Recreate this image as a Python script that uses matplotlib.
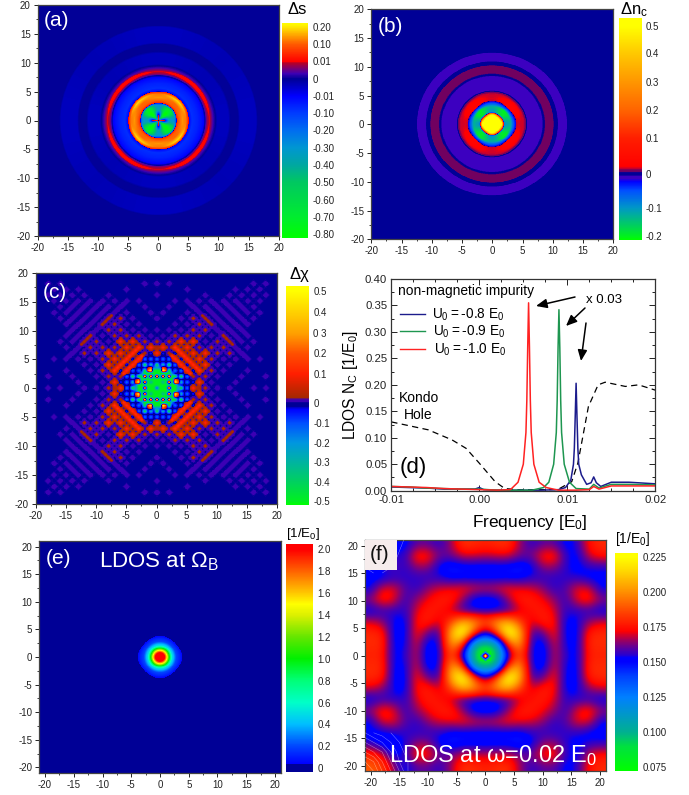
import numpy as np
import matplotlib
matplotlib.use('Agg')
import matplotlib.pyplot as plt
from matplotlib.colors import LinearSegmentedColormap, FuncNorm
from matplotlib.cm import ScalarMappable
from matplotlib.ticker import MultipleLocator

plt.rcParams['font.family'] = ['Liberation Sans', 'DejaVu Sans']
plt.rcParams['axes.unicode_minus'] = False
plt.rcParams['mathtext.fontset'] = 'custom'
plt.rcParams['mathtext.rm'] = 'Liberation Sans'
plt.rcParams['mathtext.default'] = 'regular'

W, H = 689, 795

# ---- panel (a): radial profiles along the axis and along the diagonal
a_r = [0, .3, 1, 1.3, 1.8, 2.6, 2.9, 3.05, 3.4, 4, 4.6, 4.9, 5.1, 5.6, 6.5, 7.2, 7.6, 7.9, 8.2, 8.5, 8.9, 9.2, 9.5, 9.8, 11.6, 12, 13.2, 13.5, 16.2, 16.5, 22]
a_axis_v = [0, .05, .012, -.12, -.35, -.3, -.15, .05, .1, .14, .12, .06, -.02, -.08, -.06, -.03, -.006, .004, .008, .0095, .005, .002, 0, -.004, -.004, 0, 0, -.004, -.004, 0, 0]
a_diag_v = [0, -.4, -.75, -.8, -.8, -.7, -.35, .03, .1, .11, .19, .12, -.02, -.08, -.06, -.03, -.006, .004, .01, .018, .005, .002, 0, -.003, -.003, 0, 0, -.003, -.003, 0, 0]
a_levels = [-.82, -.8, -.7, -.6, -.5, -.4, -.3, -.2, -.1, -.01, 0, .01, .1, .2, .22]
a_ypos = [714, 702, 650, 599, 547, 496, 443, 392, 340, 288, 237, 185, 133, 82, 70]
a_ticks = [-.8, -.7, -.6, -.5, -.4, -.3, -.2, -.1, -.01, 0, .01, .1, .2]
a_labels = ['-0.80', '-0.70', '-0.60', '-0.50', '-0.40', '-0.30', '-0.20', '-0.10', '-0.01', '0', '0.01', '0.10', '0.20']
a_stops = [(-.82, '#00ff00'), (-.7, '#00ec30'), (-.5, '#00c860'), (-.4, '#00a8a0'), (-.3, '#0096d2'), (-.2, '#006ef0'),
           (-.1, '#003cff'), (-.012, '#0000ff'), (0, '#000096'), (.003, '#3c00b4'), (.006, '#7a0070'), (.009, '#b40028'),
           (.0105, '#ff0000'), (.1, '#ff5a00'), (.15, '#ffa000'), (.2, '#ffe600'), (.22, '#ffff00')]

# ---- panel (b)
b_axis_r = [0, 1.6, 1.85, 1.95, 2.1, 3, 3.5, 3.9, 4.05, 4.4, 5.3, 5.6, 5.9, 8.2, 8.5, 8.9, 9.1, 10.1, 10.3, 10.8, 11.0, 12.3, 12.5, 22]
b_axis_v = [.55, .5, .2, -.03, -.1, -.13, -.06, -.025, .016, .018, .016, .009, -.01, -.01, 0, .009, .009, .009, 0, 0, -.01, -.01, 0, 0]
b_diag_r = [0, 1.4, 1.7, 1.85, 2.1, 3, 3.4, 3.7, 3.85, 4.6, 5.2, 5.5, 5.9, 8.2, 8.5, 8.9, 9.1, 10.1, 10.3, 10.8, 11.0, 12.3, 12.5, 22]
b_diag_v = [.55, .5, .2, -.03, -.19, -.2, -.06, -.025, .03, .03, .018, .009, -.01, -.01, 0, .009, .009, .009, 0, 0, -.01, -.01, 0, 0]
b_levels = [-.21, -.2, -.1, 0, .1, .2, .3, .4, .5, .54]
b_ypos = [719, 708, 623, 522, 415, 330, 245, 160, 78, 53]
b_ticks = [-.2, -.1, 0, .1, .2, .3, .4, .5]
b_labels = ['-0.2', '-0.1', '0', '0.1', '0.2', '0.3', '0.4', '0.5']
b_stops = [(-.21, '#00ff00'), (-.2, '#00f020'), (-.1, '#0096c8'), (-.05, '#0050ff'), (-.023, '#0000ff'), (-.013, '#3c00c0'),
           (-.008, '#3c00c0'), (-.002, '#000096'), (.003, '#000096'), (.007, '#6e0064'), (.011, '#78005a'),
           (.016, '#c8002d'), (.021, '#ff0000'), (.1, '#ff1e00'), (.2, '#ff6400'), (.3, '#ff9600'), (.4, '#ffc800'),
           (.5, '#ffff00'), (.54, '#ffff00')]

# ---- panel (c): lattice sites, one row per (i+j)/2, one letter per (i-j)/2
# upper-case letters join with their neighbour along the stripe
c_even = ['n', 'ty', 'yyg', 'agar', 'RRUrq', 'RRRqpp', 'rrrqp.p', 'qrqpp.p.', 'pqqpS.p.p', 'pqqqp.p..p', 'SUUSSS..p.',
          'SSSSp.p.', 'SSSSp', 'SSS', 'SSp', 'ppp', 'pp', 'pp', 'p']
c_odd = ['g', 'yg', 'gta', 'aabq', 'bb']
c_codes = {'.': 0, 'p': .01, 'S': .01, 'q': .028, 'U': .028, 'r': .12, 'R': .14, 'o': .3, 'y': .5, 'b': -.05, 'a': -.15, 't': -.3, 'g': -.5, 'n': -.03}
c_core_r = [0, 3.2, 3.7, 22]
c_core_v = [-.5, -.5, 0, 0]
c_levels = [-.53, -.5, -.4, -.3, -.2, -.1, 0, .1, .2, .3, .4, .5, .53]
c_ypos = [735, 724, 665, 607, 548, 490, 430, 342, 280, 220, 157, 92, 78]
c_ticks = [-.5, -.4, -.3, -.2, -.1, 0, .1, .2, .3, .4, .5]
c_labels = ['-0.5', '-0.4', '-0.3', '-0.2', '-0.1', '0', '0.1', '0.2', '0 3', '0.4', '0.5']
c_stops = [(-.53, '#00ff00'), (-.5, '#00f020'), (-.4, '#00d060'), (-.3, '#00b4a0'), (-.2, '#0096e0'), (-.1, '#0050ff'),
           (-.03, '#0000ff'), (-.015, '#000096'), (.002, '#000096'), (.005, '#3c00b4'), (.012, '#3c00b4'),
           (.02, '#a52800'), (.1, '#ff1e00'), (.2, '#ff5000'), (.3, '#ffa000'), (.4, '#ffd000'), (.5, '#ffff00'), (.53, '#ffff00')]

# ---- panel (d)
red_x = [-.01, -.008, -.006, -.004, -.002, 0, .002, .0035, .0036, .0044, .005, .0053, .0054, .0055, .0056, .0057, .0058, .0059, .0062, .0068, .0076, .009, .011, .0125, .013, .0136, .015, .017, .02]
red_y = [.008, .007, .006, .004, .003, .002, .001, .002, .003, .016, .05, .11, .17, .27, .355, .27, .17, .11, .05, .016, .006, .001, .001, .002, .008, .003, .009, .009, .009]
green_x = [-.01, -.008, -.006, -.004, -.002, 0, .002, .004, .006, .0073, .0079, .00845, .00875, .00885, .00895, .00905, .00915, .00925, .00935, .00965, .01025, .011, .0125, .013, .0136, .015, .017, .02]
green_y = [.008, .007, .005, .004, .003, .003, .001, .001, .001, .006, .016, .05, .11, .17, .27, .342, .27, .17, .11, .05, .016, .004, .003, .012, .005, .012, .012, .011]
blue_x = [-.01, -.008, -.006, -.004, -.002, -.0005, 0, .0005, .002, .004, .007, .009, .0098, .0104, .0107, .0108, .0109, .011, .0111, .0112, .0113, .0116, .0122, .0127, .013, .0133, .0138, .015, .017, .02]
blue_y = [.007, .006, .005, .003, .003, .003, .006, .002, .001, .001, .001, .002, .006, .02, .05, .08, .14, .203, .14, .08, .05, .03, .012, .015, .026, .015, .008, .016, .016, .013]
kondo_x = [-.01, -.0058, -.0031, -.0015, 0, .0018, .0029, .0044, .0089, .0105, .0112, .0124, .0135, .0143, .0166, .0181, .02]
kondo_y = [.13, .115, .096, .08, .052, .017, .004, .002, .002, .017, .052, .159, .2, .205, .197, .2, .19]

# ---- panel (e)
e_axis_r = [0, .8, 1.2, 1.6, 2.1, 2.8, 3.8, 3.9, 22]
e_axis_v = [2.2, 2.0, 1.5, 1.0, .5, .2, .06, 0, 0]
e_diag_r = [0, .8, 1.2, 1.6, 2.1, 2.8, 3.6, 3.7, 22]
e_diag_v = [2.2, 2.0, 1.5, 1.0, .5, .2, .06, 0, 0]
e_levels = [-.04, 0, .2, .4, .6, .8, 1.0, 1.2, 1.4, 1.6, 1.8, 2.0, 2.05]
e_ypos = [726, 714, 649, 583, 518, 452, 386, 321, 255, 189, 124, 58, 42]
e_ticks = [0, .2, .4, .6, .8, 1.0, 1.2, 1.4, 1.6, 1.8, 2.0]
e_labels = ['0', '0.2', '0.4', '0.6', '0.8', '1.0', '1.2', '1.4', '1.6', '1.8', '2.0']
e_stops = [(-.04, '#000096'), (.035, '#000096'), (.04, '#0000ff'), (.2, '#0046ff'), (.4, '#00beff'), (.6, '#00ffc8'), (.8, '#00ff78'),
           (1.0, '#00f000'), (1.2, '#64e600'), (1.4, '#dcf000'), (1.5, '#ffff00'), (1.6, '#ffc800'), (1.8, '#ff6400'), (2.0, '#ff0000'), (2.05, '#ff0000')]

# ---- panel (f): quadrant table, step 2 in x and y; rows j=0..20, columns i=0..20
f_quad = [
    [.078, .088, .15, .19, .153, .145, .17, .155, .15, .178, .178],
    [.088, .10, .19, .205, .153, .147, .172, .152, .15, .18, .18],
    [.15, .19, .235, .21, .155, .16, .176, .15, .15, .178, .18],
    [.19, .205, .21, .185, .168, .178, .175, .15, .152, .165, .17],
    [.153, .153, .155, .168, .175, .178, .17, .155, .155, .155, .15],
    [.145, .147, .165, .178, .178, .172, .165, .155, .172, .178, .165],
    [.17, .172, .175, .172, .17, .165, .155, .16, .172, .172, .152],
    [.15, .15, .15, .15, .155, .155, .155, .155, .155, .15, .15],
    [.148, .148, .148, .145, .15, .165, .165, .155, .15, .155, .155],
    [.168, .17, .17, .162, .162, .176, .178, .155, .15, .17, .175],
    [.178, .18, .182, .165, .155, .16, .16, .15, .155, .175, .18],
]
f_upper_left = [[.148, .148, .15], [.148, .15, .155], [.15, .155, .16]]
f_lower_left = [[.19, .185, .165], [.18, .17, .15], [.155, .148, .145]]
f_core = [[.08, .08, .11, .08, .08], [.08, .13, .17, .13, .08], [.11, .17, .24, .17, .11], [.08, .13, .17, .13, .08], [.08, .08, .11, .08, .08]]
f_contour_ll = [[.21, .20, .18, .16, .14, .12], [.20, .19, .17, .15, .13, .12], [.18, .17, .16, .14, .125, .115], [.16, .15, .14, .13, .12, .11], [.14, .13, .125, .12, .11, .10]]
f_contour_ul = [[.13, .12, .12, .13, .14, .15], [.13, .125, .125, .135, .145, .155], [.14, .135, .135, .14, .15, .16], [.15, .145, .145, .15, .16, .16]]
f_levels = [.073, .075, .1, .125, .15, .175, .2, .225, .228]
f_ypos = [722, 712, 607, 502, 396, 291, 185, 80, 70]
f_ticks = [.075, .1, .125, .15, .175, .2, .225]
f_labels = ['0.075', '0.100', '0.125', '0.150', '0.175', '0.200', '0.225']
f_stops = [(.073, '#00ff00'), (.09, '#00e040'), (.1, '#00b090'), (.125, '#0080ff'), (.14, '#0040ff'), (.15, '#0000ff'), (.153, '#0000ff'),
           (.155, '#2800d0'), (.16, '#5a00a0'), (.165, '#960064'), (.17, '#dc0020'), (.172, '#ff0000'), (.185, '#ff4000'),
           (.2, '#ff9000'), (.215, '#ffd800'), (.225, '#ffff00'), (.228, '#ffff00')]

fig = plt.figure(figsize=(W / 100, H / 100), dpi=100)


def px_axes(x0, y0, x1, y1):
    return fig.add_axes([x0 / W, 1 - y1 / H, (x1 - x0) / W, (y1 - y0) / H])


def txt(x, y, s, **kw):
    kw.setdefault('va', 'center')
    kw.setdefault('ha', 'left')
    fig.text(x / W, 1 - y / H, s, **kw)


def make_scale(levels, ypos, stops, name):
    lv = np.array(levels, float)
    yp = np.array(ypos, float)
    fr = (yp[0] - yp) / (yp[0] - yp[-1])
    norm = FuncNorm((lambda v: np.interp(v, lv, fr), lambda f: np.interp(f, fr, lv)), vmin=lv[0], vmax=lv[-1])
    pts = [(float(np.interp(v, lv, fr)), c) for v, c in stops]
    pts[0] = (0.0, pts[0][1])
    pts[-1] = (1.0, pts[-1][1])
    cmap = LinearSegmentedColormap.from_list(name, pts, N=512)
    return norm, cmap


def colorbar(box, norm, cmap, ticks, labels):
    cax = px_axes(*box)
    cb = fig.colorbar(ScalarMappable(norm=norm, cmap=cmap), cax=cax)
    cb.set_ticks(ticks)
    cb.set_ticklabels(labels)
    cb.minorticks_off()
    cb.outline.set_visible(False)
    cax.tick_params(length=0, labelsize=7, pad=3, colors='#222222')
    return cb


def style_map(ax, lim):
    ax.set_xlim(-lim, lim)
    ax.set_ylim(-lim, lim)
    ax.set_aspect('auto')
    ax.xaxis.set_major_locator(MultipleLocator(5))
    ax.yaxis.set_major_locator(MultipleLocator(5))
    ax.xaxis.set_minor_locator(MultipleLocator(2.5))
    ax.yaxis.set_minor_locator(MultipleLocator(2.5))
    ax.tick_params(which='major', length=3, width=.7, labelsize=7, pad=2, colors='#222222')
    ax.tick_params(which='minor', length=1.5, width=.6, colors='#222222')
    for s in ax.spines.values():
        s.set_linewidth(.9)
        s.set_color('#444444')


def blended(ax_r, ax_v, di_r, di_v, lim):
    g = np.linspace(-lim, lim, 721)
    X, Y = np.meshgrid(g, g)
    r = np.hypot(X, Y)
    w = np.sin(2 * np.arctan2(Y, X)) ** 2
    return (1 - w) * np.interp(r, ax_r, ax_v) + w * np.interp(r, di_r, di_v)


# (a)
ax = px_axes(37.7, 5, 278.7, 236)
norm, cmap = make_scale(a_levels, a_ypos, a_stops, 'a')
ax.imshow(blended(a_r, a_axis_v, a_r, a_diag_v, 20), extent=(-20, 20, -20, 20), origin='lower', norm=norm, cmap=cmap, interpolation='nearest')
style_map(ax, 20)
colorbar((282, 23, 308, 238), norm, cmap, a_ticks, a_labels)
txt(44, 21, '(a)', color='white', fontsize=15)
txt(288, 10, 'Δs', fontsize=12)

# (b)
ax = px_axes(371.3, 9.3, 613.3, 239.3)
norm, cmap = make_scale(b_levels, b_ypos, b_stops, 'b')
ax.imshow(blended(b_axis_r, b_axis_v, b_diag_r, b_diag_v, 20), extent=(-20, 20, -20, 20), origin='lower', norm=norm, cmap=cmap, interpolation='nearest')
style_map(ax, 20)
colorbar((619, 17.7, 641.7, 239.7), norm, cmap, b_ticks, b_labels)
txt(378, 26, '(b)', color='white', fontsize=15)
txt(620, 10, r'Δ$n_c$', fontsize=12)

# (c): half-unit lattice so that sites stay distinct dots and stripes stay separate
ax = px_axes(35.7, 272.7, 277.3, 504)
norm, cmap = make_scale(c_levels, c_ypos, c_stops, 'c')
n = 41
gc = np.arange(-n + 1, n) / 2
rc = np.hypot(*np.meshgrid(gc, gc))
lat = np.interp(rc, c_core_r, c_core_v)


def put(i2, j2, v):
    for a, b in ((i2, j2), (j2, i2)):
        for sx in (-1, 1):
            for sy in (-1, 1):
                if abs(a) < n and abs(b) < n:
                    lat[n - 1 + sy * b, n - 1 + sx * a] = v


def halo(i2, j2, v):
    for di, dj in ((1, 0), (-1, 0), (0, 1), (0, -1)):
        a, b = i2 + di, j2 + dj
        if a >= 0 and b >= 0 and np.hypot(a, b) / 2 > 3.3:
            put(a, b, v * .4)


# halos first, then the sites on top of them
for s, row in enumerate(c_even):
    for k, ch in enumerate(row):
        if ch != '.' and c_codes[ch] > 0:
            halo(2 * (s + k), 2 * (s - k), c_codes[ch])
for s, row in enumerate(c_even):
    for k, ch in enumerate(row):
        if ch != '.':
            put(2 * (s + k), 2 * (s - k), c_codes[ch])
        if ch.isupper() and k + 1 < len(row) and row[k + 1].isupper():
            put(2 * (s + k) + 1, 2 * (s - k) - 1, c_codes[ch])
for s, row in enumerate(c_odd):
    for k, ch in enumerate(row):
        put(2 * (s + 1 + k), 2 * (s - k), c_codes[ch])
ax.imshow(lat, extent=(-20.25, 20.25, -20.25, 20.25), origin='lower', norm=norm, cmap=cmap, interpolation='bilinear', interpolation_stage='data')
style_map(ax, 20)
colorbar((286, 286, 309, 505), norm, cmap, c_ticks, c_labels)
txt(43, 293, '(c)', color='white', fontsize=15)
txt(289, 275, 'Δχ', fontsize=12)

# (d)
ax = px_axes(391.3, 279, 655.3, 490.7)
ax.plot(kondo_x, kondo_y, color='black', lw=.9, dashes=(5, 3.5))
ax.plot(blue_x, blue_y, color='#1c1c8c', lw=1.1)
ax.plot(green_x, green_y, color='#1e9650', lw=1.1)
ax.plot(red_x, red_y, color='#ff2222', lw=1.1)
ax.set_xlim(-.01, .02)
ax.set_ylim(0, .4)
ax.set_xticks([-.01, 0, .01, .02], ['-0.01', '0.00', '0.01', '0.02'])
ax.set_yticks(np.arange(0, .41, .05), ['%.2f' % v for v in np.arange(0, .41, .05)])
ax.xaxis.set_minor_locator(MultipleLocator(.0025))
ax.yaxis.set_minor_locator(MultipleLocator(.025))
ax.tick_params(which='both', direction='in', top=True, right=True, width=.7, colors='#222222')
ax.tick_params(which='major', length=4, labelsize=8.2, pad=3)
ax.tick_params(which='minor', length=2)
for s in ax.spines.values():
    s.set_linewidth(.9)
    s.set_color('#333333')
txt(350, 385, r'LDOS $N_C$ [1/$E_0$]', rotation=90, ha='center', fontsize=11.2)
txt(530, 522, r'Frequency [$E_0$]', ha='center', fontsize=12.4)
txt(398, 291, 'non-magnetic impurity', fontsize=9.9)
leg_colors = ['#1c1c8c', '#1e9650', '#ff2222']
leg_labels = [r'$U_0 = $-0.8 $E_0$', r'$U_0 = $-0.9 $E_0$', r'$U_0 = $-1.0 $E_0$']
for yy, xt, c, lab in zip((313.5, 331, 348.5), (432, 433, 434), leg_colors, leg_labels):
    fig.add_artist(plt.Line2D([400 / W, 424.5 / W], [1 - yy / H, 1 - yy / H], color=c, lw=1))
    txt(xt, yy + 1, lab, fontsize=9.8)
txt(586, 300, 'x 0.03', fontsize=9.5)
txt(399, 398, 'Kondo', fontsize=10)
txt(404, 415, 'Hole', fontsize=10)
txt(400, 468, '(d)', fontsize=16)
for (x0, y0), (x1, y1) in (((575, 297), (536, 306)), ((585, 308), (566, 326)), ((586, 323), (581, 361))):
    ax.annotate('', xy=(x1 / W, 1 - y1 / H), xytext=(x0 / W, 1 - y0 / H), xycoords='figure fraction', textcoords='figure fraction',
                arrowprops=dict(arrowstyle='-|>,head_width=.28,head_length=.65', color='black', lw=1.1, shrinkA=0, shrinkB=0))

# (e)
ax = px_axes(39.3, 541, 280.7, 773)
norm, cmap = make_scale(e_levels, e_ypos, e_stops, 'e')
ax.imshow(blended(e_axis_r, e_axis_v, e_diag_r, e_diag_v, 21), extent=(-21, 21, -21, 21), origin='lower', norm=norm, cmap=cmap, interpolation='nearest')
style_map(ax, 21)
colorbar((286, 544, 313, 772), norm, cmap, e_ticks, e_labels)
txt(46, 559, '(e)', color='white', fontsize=15)
txt(99, 562, r'LDOS at Ω$_B$', color='white', fontsize=16)
txt(286, 534, r'[1/$E_0$]', fontsize=9.5)

# (f)
ax = px_axes(365, 540, 605.7, 771.3)
norm, cmap = make_scale(f_levels, f_ypos, f_stops, 'f')
q = np.array(f_quad)
top = np.hstack([q[:, :0:-1], q])
full = np.vstack([top[:0:-1], top])
full[-3:, :3] = np.array(f_upper_left)[::-1]
full[:3, :3] = np.array(f_lower_left)
ax.imshow(full, extent=(-21, 21, -21, 21), origin='lower', norm=norm, cmap=cmap, interpolation='bicubic', interpolation_stage='data')
ax.imshow(f_core, extent=(-.9, .9, -.9, .9), origin='lower', norm=norm, cmap=cmap, interpolation='bilinear', interpolation_stage='data', zorder=2)
gx = np.linspace(-21, -13.5, 6)
gy = np.linspace(-21, -14, 5)
ax.contour(gx, gy, np.array(f_contour_ll), levels=np.arange(.12, .21, .01), colors='white', linewidths=.3, alpha=.55, zorder=3)
gy2 = np.linspace(15, 21, 4)[::-1]
ax.contour(gx, gy2, np.array(f_contour_ul), levels=[.125, .135, .145], colors='white', linewidths=.3, alpha=.55, zorder=3)
style_map(ax, 21)
ax.add_patch(plt.Rectangle((-21, 15.5), 5.6, 5.5, facecolor='#f6ecec', edgecolor='none', zorder=4))
colorbar((615, 553.3, 638, 770.7), norm, cmap, f_ticks, f_labels)
txt(370, 555, '(f)', color='#111111', fontsize=15, zorder=6)
txt(389, 756, r'LDOS at ω=0.02 $E_0$', color='white', fontsize=17, zorder=6)
txt(615, 539, r'[1/$E_0$]', fontsize=10)

fig.savefig('out.png', dpi=100)
